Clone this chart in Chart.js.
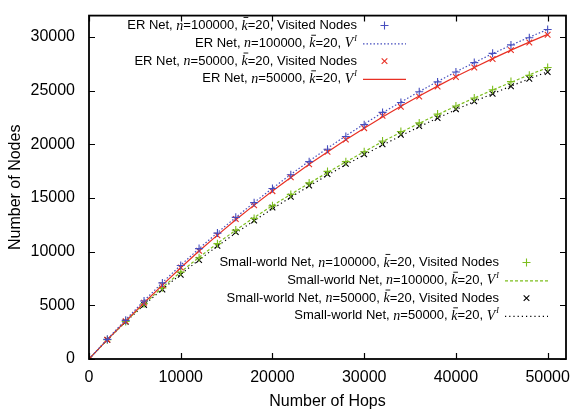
<!DOCTYPE html>
<html>
<head>
<meta charset="utf-8">
<script src="https://cdn.jsdelivr.net/npm/chart.js@4.4.0/dist/chart.umd.min.js"></script>
<style>
html, body { margin: 0; padding: 0; background: #fff; }
#wrap { width: 577px; height: 411px; }
</style>
</head>
<body>
<div id="wrap"><canvas id="grafica"></canvas></div>
<script>
// number of hops (x) for every sample
var hops = [0, 2000, 4000, 6000, 8000, 10000, 12000, 14000, 16000, 18000, 20000, 22000, 24000,
	26000, 28000, 30000, 32000, 34000, 36000, 38000, 40000, 42000, 44000, 46000, 48000, 50000];

// visited nodes (markers)
var erVisited100k = [0, 1830, 3600, 5400, 7090, 8710, 10290, 11730, 13200, 14570, 15890, 17170, 18390,
	19550, 20740, 21840, 22980, 23900, 24900, 25820, 26740, 27620, 28480, 29270, 29940, 30700];
var erVisited50k = [0, 1800, 3520, 5250, 6870, 8520, 10080, 11520, 13040, 14330, 15640, 16930, 18150,
	19310, 20440, 21510, 22670, 23500, 24450, 25390, 26280, 27160, 27960, 28780, 29490, 30220];
var swVisited100k = [0, 1790, 3500, 5150, 6630, 8100, 9440, 10750, 12010, 13100, 14270, 15340, 16410,
	17480, 18390, 19310, 20320, 21200, 22000, 22820, 23580, 24320, 25090, 25850, 26430, 27160];
var swVisited50k = [0, 1780, 3460, 5040, 6480, 7850, 9230, 10540, 11820, 12900, 14120, 15120, 16160,
	17230, 18180, 19070, 20010, 20900, 21700, 22460, 23280, 24010, 24720, 25420, 26120, 26740];

// V^I curves (lines)
var erLine100k = [0, 1850, 3660, 5430, 7120, 8740, 10290, 11770, 13200, 14580, 15910, 17200, 18440,
	19640, 20800, 21900, 22960, 23950, 24920, 25860, 26760, 27620, 28460, 29240, 29990, 30710];
var erLine50k = [0, 1800, 3530, 5240, 6880, 8500, 10060, 11540, 12980, 14340, 15650, 16920, 18140,
	19300, 20420, 21500, 22550, 23550, 24510, 25430, 26320, 27170, 27990, 28780, 29530, 30250];
var swLine100k = [0, 1800, 3500, 5130, 6660, 8110, 9480, 10780, 12010, 13180, 14290, 15350, 16380,
	17370, 18360, 19320, 20260, 21130, 21970, 22780, 23560, 24320, 25060, 25780, 26480, 27160];
var swLine50k = [0, 1780, 3460, 5040, 6500, 7900, 9240, 10520, 11730, 12890, 14000, 15080, 16120,
	17130, 18100, 19030, 19930, 20800, 21640, 22450, 23230, 23990, 24720, 25430, 26110, 26770];

var xTicks = [0, 10000, 20000, 30000, 40000, 50000];
var yTicks = [0, 5000, 10000, 15000, 20000, 25000, 30000];

var etiquetas = [
	'ER Net, n=100000, k\u0304=20, Visited Nodes',
	'ER Net, n=100000, k\u0304=20, V^I',
	'ER Net, n=50000, k\u0304=20, Visited Nodes',
	'ER Net, n=50000, k\u0304=20, V^I',
	'Small-world Net, n=100000, k\u0304=20, Visited Nodes',
	'Small-world Net, n=100000, k\u0304=20, V^I',
	'Small-world Net, n=50000, k\u0304=20, Visited Nodes',
	'Small-world Net, n=50000, k\u0304=20, V^I'
];

var azul = 'rgb(70, 78, 190)';
var rojo = 'rgb(232, 48, 36)';
var verde = 'rgb(125, 190, 30)';
var negro = 'rgb(0, 0, 0)';
var fuente = '"Liberation Sans", Arial, sans-serif';

function puntos(ys) {
	return hops.map(function(h, i) { return {x: h, y: ys[i]}; });
}

function marcas(label, ys, color, estilo) {
	return {
		label: label, data: puntos(ys), showLine: false,
		pointStyle: estilo, pointRadius: 4, pointBorderWidth: 1.1,
		borderColor: color, backgroundColor: color, pointBorderColor: color
	};
}

function linea(label, ys, color, dash) {
	return {
		label: label, data: puntos(ys), showLine: true, pointRadius: 0,
		borderColor: color, backgroundColor: color, borderWidth: 1.2,
		borderDash: dash, fill: false, tension: 0
	};
}

// draw a label with italic n, k-bar and V^I
function textoLeyenda(ctx, txt, right, y, size) {
	var partes = txt.split(/(n(?==)|k\u0304|V\^I)/).filter(function(s) { return s.length; });
	var normal = size + 'px ' + fuente;
	var ital = 'italic ' + (size + 1) + 'px "Liberation Serif", "Times New Roman", serif';
	var sup = 'italic ' + Math.round(size * 0.65) + 'px "Liberation Serif", serif';
	var medir = function(p) {
		if (p === 'n') { ctx.font = ital; return ctx.measureText('n').width; }
		if (p === 'k\u0304') { ctx.font = ital; return ctx.measureText('k').width; }
		if (p === 'V^I') { ctx.font = ital; var w = ctx.measureText('V').width; ctx.font = sup; return w + ctx.measureText('I').width + 1; }
		ctx.font = normal; return ctx.measureText(p).width;
	};
	var total = 0;
	partes.forEach(function(p) { total += medir(p); });
	var x = right - total;
	ctx.textBaseline = 'middle';
	ctx.textAlign = 'left';
	ctx.fillStyle = '#000';
	partes.forEach(function(p) {
		var w = medir(p);
		if (p === 'n') { ctx.font = ital; ctx.fillText('n', x, y + 0.5); }
		else if (p === 'k\u0304') {
			ctx.font = ital; ctx.fillText('k', x, y + 0.5);
			ctx.strokeStyle = '#000'; ctx.lineWidth = 0.9; ctx.setLineDash([]);
			ctx.beginPath(); ctx.moveTo(x + 2, y - size * 0.62); ctx.lineTo(x + w + 0.5, y - size * 0.62); ctx.stroke();
		}
		else if (p === 'V^I') {
			ctx.font = ital; ctx.fillText('V', x, y + 0.5);
			var wv = ctx.measureText('V').width;
			ctx.font = sup; ctx.fillText('I', x + wv + 1, y - size * 0.35);
		}
		else { ctx.font = normal; ctx.fillText(p, x, y); }
		x += w;
	});
}

var marcoLeyenda = {
	id: 'marcoLeyenda',
	afterDatasetsDraw: function(chart) {
		var ctx = chart.ctx, a = chart.chartArea;
		var sx = chart.scales.x, sy = chart.scales.y;
		ctx.save();
		ctx.strokeStyle = '#000';
		ctx.lineWidth = 1.2;
		ctx.setLineDash([]);
		// inward ticks on all four sides
		ctx.beginPath();
		xTicks.forEach(function(v) {
			var px = Math.round(sx.getPixelForValue(v)) + 0.5;
			ctx.moveTo(px, a.bottom); ctx.lineTo(px, a.bottom - 6);
			ctx.moveTo(px, a.top); ctx.lineTo(px, a.top + 6);
		});
		yTicks.forEach(function(v) {
			var py = Math.round(sy.getPixelForValue(v)) + 0.5;
			ctx.moveTo(a.left, py); ctx.lineTo(a.left + 6, py);
			ctx.moveTo(a.right, py); ctx.lineTo(a.right - 6, py);
		});
		ctx.stroke();
		ctx.lineWidth = 1.8;
		ctx.strokeRect(a.left, a.top, a.right - a.left, a.bottom - a.top);

		// legend blocks
		var bloques = [
			{items: [0, 1, 2, 3], right: 357, top: 25.5},
			{items: [4, 5, 6, 7], right: 499, top: 262.5}
		];
		bloques.forEach(function(b) {
			b.items.forEach(function(idx, k) {
				var ds = chart.data.datasets[idx];
				var y = b.top + k * 17.8;
				textoLeyenda(ctx, ds.label, b.right, y, 13);
				var x0 = b.right + 6, x1 = b.right + 49;
				ctx.strokeStyle = ds.borderColor;
				if (ds.showLine) {
					ctx.lineWidth = ds.borderWidth;
					ctx.setLineDash(ds.borderDash || []);
					ctx.beginPath(); ctx.moveTo(x0, y + 0.5); ctx.lineTo(x1, y + 0.5); ctx.stroke();
					ctx.setLineDash([]);
				} else {
					ctx.lineWidth = ds.pointBorderWidth;
					Chart.helpers.drawPoint(ctx, {pointStyle: ds.pointStyle, rotation: 0, radius: ds.pointRadius, borderWidth: ds.pointBorderWidth}, (x0 + x1) / 2, y);
				}
			});
		});
		ctx.restore();
	}
};

var ctx = document.getElementById('grafica').getContext('2d');
var chart = new Chart(ctx, {
	type: 'scatter',
	data: {
		datasets: [
			marcas(etiquetas[0], erVisited100k, azul, 'cross'),
			linea(etiquetas[1], erLine100k, azul, [1.5, 2]),
			marcas(etiquetas[2], erVisited50k, rojo, 'crossRot'),
			linea(etiquetas[3], erLine50k, rojo, []),
			marcas(etiquetas[4], swVisited100k, verde, 'cross'),
			linea(etiquetas[5], swLine100k, verde, [3, 2]),
			marcas(etiquetas[6], swVisited50k, negro, 'crossRot'),
			linea(etiquetas[7], swLine50k, negro, [1.2, 3])
		]
	},
	options: {
		responsive: true,
		maintainAspectRatio: false,
		animation: false,
		layout: { padding: { top: 9, right: 11, left: 0, bottom: 0 } },
		plugins: { legend: { display: false }, tooltip: { enabled: false } },
		scales: {
			x: {
				type: 'linear', min: 0, max: 52000,
				afterBuildTicks: function(s) { s.ticks = xTicks.map(function(v) { return {value: v}; }); },
				afterFit: function(s) { s.height = 52; },
				ticks: { color: '#000', padding: 1, font: { size: 16, family: fuente },
					callback: function(v) { return String(v); } },
				grid: { display: false },
				border: { display: false },
				title: { display: true, text: 'Number of Hops', color: '#000', padding: { top: 4, bottom: 0 },
					font: { size: 16, family: fuente } }
			},
			y: {
				type: 'linear', min: 0, max: 32000,
				afterBuildTicks: function(s) { s.ticks = yTicks.map(function(v) { return {value: v}; }); },
				afterFit: function(s) { s.width = 89; },
				ticks: { color: '#000', padding: 6, font: { size: 16, family: fuente },
					callback: function(v) { return String(v); } },
				grid: { display: false },
				border: { display: false },
				title: { display: true, text: 'Number of Nodes', color: '#000', padding: { top: 6, bottom: 4 },
					font: { size: 16, family: fuente } }
			}
		}
	},
	plugins: [marcoLeyenda]
});
</script>
</body>
</html>
